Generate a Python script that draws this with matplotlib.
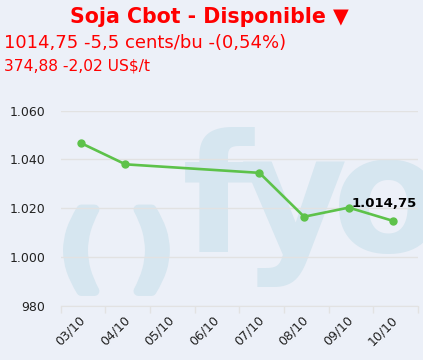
import matplotlib
matplotlib.use('Agg')
import matplotlib.pyplot as plt
import matplotlib.patheffects as pe
import numpy as np
from matplotlib.ticker import FuncFormatter

# Data
dates = ['03/10', '04/10', '05/10', '06/10', '07/10', '08/10', '09/10', '10/10']
prices = [1046.75, 1038.0, None, None, 1034.5, 1016.5, 1020.25, 1014.75]
y_ticks = [980, 1000, 1020, 1040, 1060]

title = 'Soja Cbot - Disponible \u25bc'
line1 = '1014,75 -5,5 cents/bu -(0,54%)'
line2 = '374,88 -2,02 US$/t'
last_label = '1.014,75'

bg = '#ECF0F8'
green = '#5DC24A'
grid_c = '#E2E2E2'
wm = '#D6E6F0'

fig = plt.figure(figsize=(4.23, 3.60), dpi=100, facecolor=bg)
ax = fig.add_axes([60.7 / 423, 1 - 305.7 / 360, (418 - 60.7) / 423, (305.7 - 110.7) / 360])
ax.set_zorder(1)
ax.patch.set_alpha(0)

# Watermark logo, letter by letter (behind the axes)
for ch, px in [('(', 60), (')', 131)]:
    fig.text(px / 423, 1 - 253 / 360, ch, fontsize=66, fontweight='bold', color=wm,
             ha='left', va='center', zorder=0,
             path_effects=[pe.withStroke(linewidth=7, foreground=wm)])
for ch, px in [('f', 182), ('y', 240), ('o', 332)]:
    fig.text(px / 423, 1 - 252 / 360, ch, fontsize=118, fontweight='bold', color=wm,
             ha='left', va='baseline', zorder=0)

x_all = np.arange(len(dates))
xs = [x for x, v in zip(x_all, prices) if v is not None]
ys = [v for v in prices if v is not None]
ax.plot(np.array(xs) - 0.05, ys, color=green, lw=1.9, marker='o', ms=5,
        zorder=3, solid_capstyle='round')

ax.annotate(last_label, xy=(xs[-1] - 0.05, ys[-1]), xytext=(23, 11),
            textcoords='offset pixels', ha='right', va='bottom',
            fontsize=9.5, fontweight='bold', color='black', zorder=4)

ax.set_xlim(-0.5, len(dates) - 0.5)
ax.set_ylim(980, 1060)
ax.set_yticks(y_ticks)
ax.yaxis.set_major_formatter(FuncFormatter(lambda v, p: f'{int(v):,}'.replace(',', '.')))
ax.tick_params(axis='y', length=0, pad=11, labelsize=9, labelcolor='#222222')
ax.grid(axis='y', color=grid_c, lw=1)
ax.set_axisbelow(True)

ax.set_xticks(x_all)
ax.set_xticklabels(dates, rotation=45, ha='right', va='center', rotation_mode='anchor')
ax.set_xticks(np.arange(-0.5, len(dates)), minor=True)
ax.tick_params(axis='x', which='major', length=0, pad=9, labelsize=9, labelcolor='#222222')
ax.tick_params(axis='x', which='minor', length=5, color=grid_c, width=1)

for s in ['top', 'right', 'left']:
    ax.spines[s].set_visible(False)
ax.spines['bottom'].set_color(grid_c)

fig.text(209 / 423, 1 - 17 / 360, title, fontsize=14.8, fontweight='bold',
         color='#FF0000', ha='center', va='center')
fig.text(4 / 423, 1 - 43 / 360, line1, fontsize=13, color='#FF0000',
         ha='left', va='center')
fig.text(4 / 423, 1 - 66 / 360, line2, fontsize=11.2, color='#FF0000',
         ha='left', va='center')

fig.savefig('out.png', dpi=100, facecolor=bg)
